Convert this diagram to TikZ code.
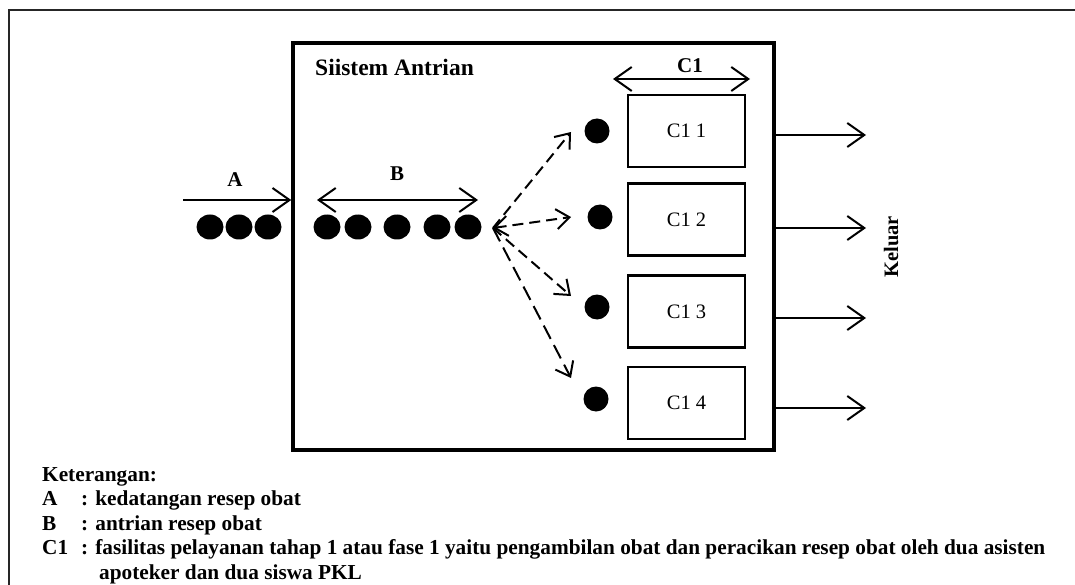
\documentclass[tikz,border=0pt]{standalone}
\usepackage{fontspec}
\setmainfont{Liberation Serif}
\usetikzlibrary{arrows.meta,shapes.geometric}
\tikzset{
  outerline/.style={line width=2pt, draw=black!85},
  sysbox/.style={draw, line width=3.5pt, inner sep=0pt},
  srvbox/.style={draw, line width=2.5pt, minimum width=117pt, minimum height=72pt, inner sep=0pt, font=\fontsize{20.5}{24}\selectfont},
  qdot/.style={fill=black, ellipse, minimum width=27pt, minimum height=25pt, inner sep=0pt},
  sdot/.style={fill=black, circle, minimum size=25pt, inner sep=0pt},
  bigtip/.tip={Straight Barb[length=17pt,width=24pt,line width=2pt]},
  smalltip/.tip={Straight Barb[length=13pt,width=20pt,line width=2pt]},
  arr/.style={line width=2pt, -bigtip},
  dblarr/.style={line width=2pt, bigtip-bigtip},
  darr/.style={line width=2pt, dash pattern=on 11pt off 6pt, -smalltip},
  lbl/.style={font=\fontsize{21}{25}\bfseries\selectfont, inner sep=0pt},
  leg/.style={font=\fontsize{21.3}{25}\bfseries\selectfont, inner sep=0pt, anchor=base west},
}
\begin{document}
\begin{tikzpicture}[x=1pt,y=-1pt]
\useasboundingbox (0,0) rectangle (1075,585);
% outer frame (only left and top edges visible)
\coordinate (fTL) at (9,10);
\coordinate (fTR) at (1080,10);
\coordinate (fBL) at (9,590);
\draw[outerline] (fBL) -- (fTL) -- (fTR);

% system box
\node[sysbox, minimum width=481pt, minimum height=407pt] (sys) at (533.5,246.5) {};
\node[lbl, font=\fontsize{23.5}{28}\bfseries\selectfont, anchor=base west] (title) at (315,76) {Siistem Antrian};

% service boxes
\node[srvbox] (c11) at (686.5,131) {C1 1};
\node[srvbox] (c12) at (686.5,219.5) {C1 2};
\node[srvbox] (c13) at (686.5,311.5) {C1 3};
\node[srvbox] (c14) at (686.5,403) {C1 4};

% C1 span
\coordinate (c1L) at (613,79);
\coordinate (c1R) at (750,79);
\draw[dblarr] (c1L) -- (c1R);
\node[lbl, anchor=base] (c1lbl) at (690,73) {C1};

% dots at servers
\node[sdot] (s1) at (597,131) {};
\node[sdot] (s2) at (600,217) {};
\node[sdot] (s3) at (597,307) {};
\node[sdot] (s4) at (596,399) {};

% arrivals A
\coordinate (aS) at (183,200);
\draw[arr] (aS) -- (aS -| sys.west);
\node[lbl, anchor=base] (albl) at (235,187) {A};
\node[qdot] (a1) at (210,227) {};
\node[qdot] (a2) at (239,227) {};
\node[qdot] (a3) at (268,227) {};

% queue B
\coordinate (bL) at (317,200);
\coordinate (bR) at (478,200);
\draw[dblarr] (bL) -- (bR);
\node[lbl, anchor=base] (blbl) at (397,181) {B};
\node[qdot] (b1) at (327,227) {};
\node[qdot] (b2) at (358,227) {};
\node[qdot] (b3) at (397,227) {};
\node[qdot] (b4) at (437,227) {};
\node[qdot] (b5) at (468,227) {};

% fan-out dashed arrows
\coordinate (fan) at (493,228);
\coordinate (t1) at (571,132);
\coordinate (t2) at (571,217);
\coordinate (t3) at (571,296);
\coordinate (t4) at (571,378);
\draw[darr] (fan) -- (t1);
\draw[darr, smalltip-smalltip] (fan) -- (t2);
\draw[darr] (fan) -- (t3);
\draw[darr, dash pattern=on 15pt off 7pt] (fan) -- (t4);

% outputs
\coordinate (o1) at (866,135);
\coordinate (o2) at (866,228);
\coordinate (o3) at (866,318);
\coordinate (o4) at (866,408);
\draw[arr] (o1 -| sys.east) -- (o1);
\draw[arr] (o2 -| sys.east) -- (o2);
\draw[arr] (o3 -| sys.east) -- (o3);
\draw[arr] (o4 -| sys.east) -- (o4);
\node[lbl, font=\fontsize{20.5}{25}\bfseries\selectfont, rotate=90] (keluar) at (891,247) {Keluar};

% legend
\node[leg] (kt) at (42,481) {Keterangan:};
\node[leg] (lA) at (42,505.5) {A};
\node[leg] (lAt) at (81,505.5) {: kedatangan resep obat};
\node[leg] (lB) at (42,530) {B};
\node[leg] (lBt) at (81,530) {: antrian resep obat};
\node[leg] (lC) at (42,554.5) {C1};
\node[leg] (lCt) at (81,554.5) {: fasilitas pelayanan tahap 1 atau fase 1 yaitu pengambilan obat dan peracikan resep obat oleh dua asisten};
\node[leg] (lCt2) at (99,579) {apoteker dan dua siswa PKL};
\end{tikzpicture}
\end{document}
